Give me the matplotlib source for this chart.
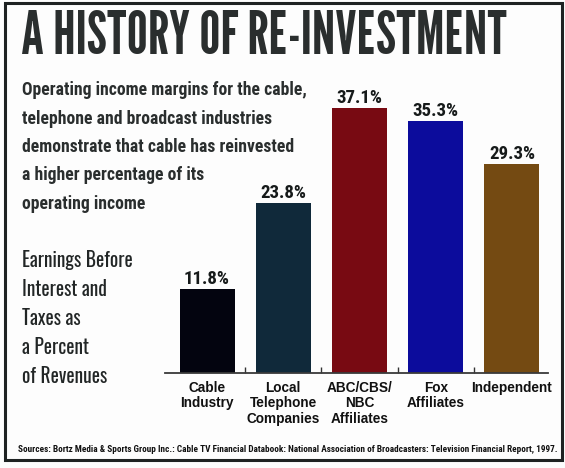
import matplotlib
matplotlib.use("Agg")
import matplotlib.pyplot as plt
from matplotlib.patches import Rectangle

# chart size in pixels (dpi 100)
W, H = 565, 468

# data
categories = ["Cable\nIndustry", "Local\nTelephone\nCompanies", "ABC/CBS/\nNBC\nAffiliates",
              "Fox\nAffiliates", "Independent"]
margins = [11.8, 23.8, 37.1, 35.3, 29.3]
bar_colors = ["#03040f", "#10293a", "#780a12", "#0c0c9c", "#744a12"]

title = "A HISTORY OF RE-INVESTMENT"
intro_lines = ["Operating income margins for the cable,",
               "telephone and broadcast industries",
               "demonstrate that cable has reinvested",
               "a higher percentage of its",
               "operating income"]
measure_lines = ["Earnings Before", "Interest and", "Taxes as", "a Percent", "of Revenues"]
source = ("Sources: Bortz Media & Sports Group Inc.: Cable TV Financial Databook: "
          "National Association of Broadcasters: Television Financial Report, 1997.")

INK = "#2a2e2e"
COND = ["Roboto Condensed", "DejaVu Sans"]
TALL = ["Oswald", "Roboto Condensed", "DejaVu Sans"]


def fx(x):
    return x / W


def fy(y):
    return 1 - y / H


fig = plt.figure(figsize=(W / 100, H / 100), dpi=100)
fig.patch.set_facecolor("#fdfdfd")
renderer = fig.canvas.get_renderer()


def fit_width(txt, width_px):
    # scale the font so the text spans the given pixel width
    w = txt.get_window_extent(renderer).width
    txt.set_fontsize(txt.get_fontsize() * width_px / w)
    return txt.get_fontsize()


# frame
fig.add_artist(Rectangle((fx(5), fy(460)), (562 - 5) / W, (460 - 2.5) / H,
                         transform=fig.transFigure, fill=False,
                         edgecolor="#1e2222", linewidth=2.2))

# title
t = fig.text(fx(21), fy(37), title, family=["League Gothic", "Oswald", "DejaVu Sans"],
             color=INK, fontsize=40, va="center", ha="left")
fit_width(t, 507 - 21)

# intro paragraph
first = fig.text(fx(22), fy(90), intro_lines[0], family=COND, weight="bold",
                 color=INK, fontsize=12, va="center", ha="left")
size = fit_width(first, 307 - 22)
for i, line in enumerate(intro_lines[1:], start=1):
    fig.text(fx(22), fy(90 + 28.5 * i), line, family=COND, weight="bold",
             color=INK, fontsize=size, va="center", ha="left")

# measure description
first = fig.text(fx(22), fy(260), measure_lines[0], family=TALL,
                 color="#222626", fontsize=12, va="center", ha="left")
size = fit_width(first, 133 - 22)
for i, line in enumerate(measure_lines[1:], start=1):
    fig.text(fx(22), fy(260 + 29 * i), line, family=TALL,
             color="#222626", fontsize=size, va="center", ha="left")

# source line
s = fig.text(fx(18), fy(450), source, family=COND, weight="bold",
             color="#111111", fontsize=6, va="center", ha="left")
fit_width(s, 556 - 18)

# bars
step = 76.25
x0 = 207
ax = fig.add_axes([fx(165), fy(373), (548 - 165) / W, (373 - 80) / H])
ax.set_facecolor("none")
xs = list(range(len(margins)))
ax.bar(xs, margins, width=55 / step, color=bar_colors)
ax.set_xlim((165 - x0) / step, (548 - x0) / step)
ax.set_ylim(0, 41)

for x, v in zip(xs, margins):
    ax.annotate(f"{v}%", (x, v), xytext=(0, 3.2), textcoords="offset points",
                ha="center", va="baseline", family=COND, weight="bold",
                fontsize=13.6, color="#161a1a")

for side in ["left", "top", "right"]:
    ax.spines[side].set_visible(False)
ax.spines["bottom"].set_color("#3a3a3a")
ax.spines["bottom"].set_linewidth(1.3)
ax.set_yticks([])
ax.set_xticks(xs)
ax.set_xticklabels(categories, family=["Liberation Sans", "DejaVu Sans"], weight="bold",
                   fontsize=9.8, color="#111111", linespacing=1.15)
ax.set_xticks([x + 0.5 for x in xs[:-1]], minor=True)
ax.tick_params(axis="x", which="major", length=0, pad=5.5)
ax.tick_params(axis="x", which="minor", direction="in", length=4, width=1, color="#333333")

fig.savefig("out.png", dpi=100, facecolor=fig.get_facecolor())
